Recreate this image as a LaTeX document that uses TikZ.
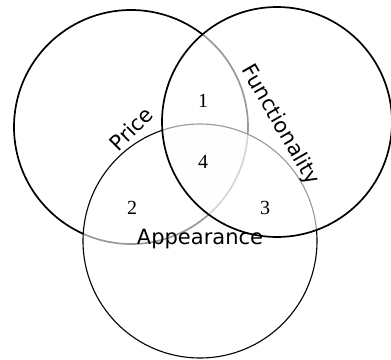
\documentclass[tikz,border=0pt]{standalone}
\usepackage{fontspec}
\setmainfont{Liberation Serif}
\newfontfamily\labelfont{DejaVu Sans}
\usepackage{tikz}
\usetikzlibrary{positioning}

\begin{document}
\begin{tikzpicture}[
    x=1pt, y=-1pt,
    setline/.style={draw=black, line width=1.7pt},
    thinline/.style={draw=black, line width=1.1pt},
    veil/.style={fill=white, fill opacity=0.6},
    setlabel/.style={font=\labelfont\fontsize{21}{25}\selectfont, inner sep=0pt},
    region/.style={font=\fontsize{20}{24}\selectfont, inner sep=0pt},
]
\useasboundingbox (0,0) rectangle (391,359);

% Centres
\coordinate (cp) at (131,127);
\coordinate (cf) at (277,122);
\coordinate (ca) at (200,241);

% Common region
\begin{scope}
  \clip (cp) circle[radius=117pt];
  \clip (cf) circle[radius=115pt];
  \fill[gray!4] (ca) circle[radius=117pt];
\end{scope}

% Circles, each one drawn over the last
\draw[setline] (cp) circle[radius=117pt];
\draw[thinline, veil] (ca) circle[radius=117pt];
\draw[setline, veil] (cf) circle[radius=115pt];

% Set labels
\node[setlabel, rotate=45] (price) at (131,129) {Price};
\node[setlabel, rotate=-60] (func) at (280,125) {Functionality};
\node[setlabel] (appear) at (200,239) {Appearance};

% Region numbers
\node[region] (r1) at (203,101) {1};
\node[region] (r4) at (203,162) {4};
\node[region] (r2) at (132,208) {2};
\node[region] (r3) at (265,208) {3};

\end{tikzpicture}
\end{document}
